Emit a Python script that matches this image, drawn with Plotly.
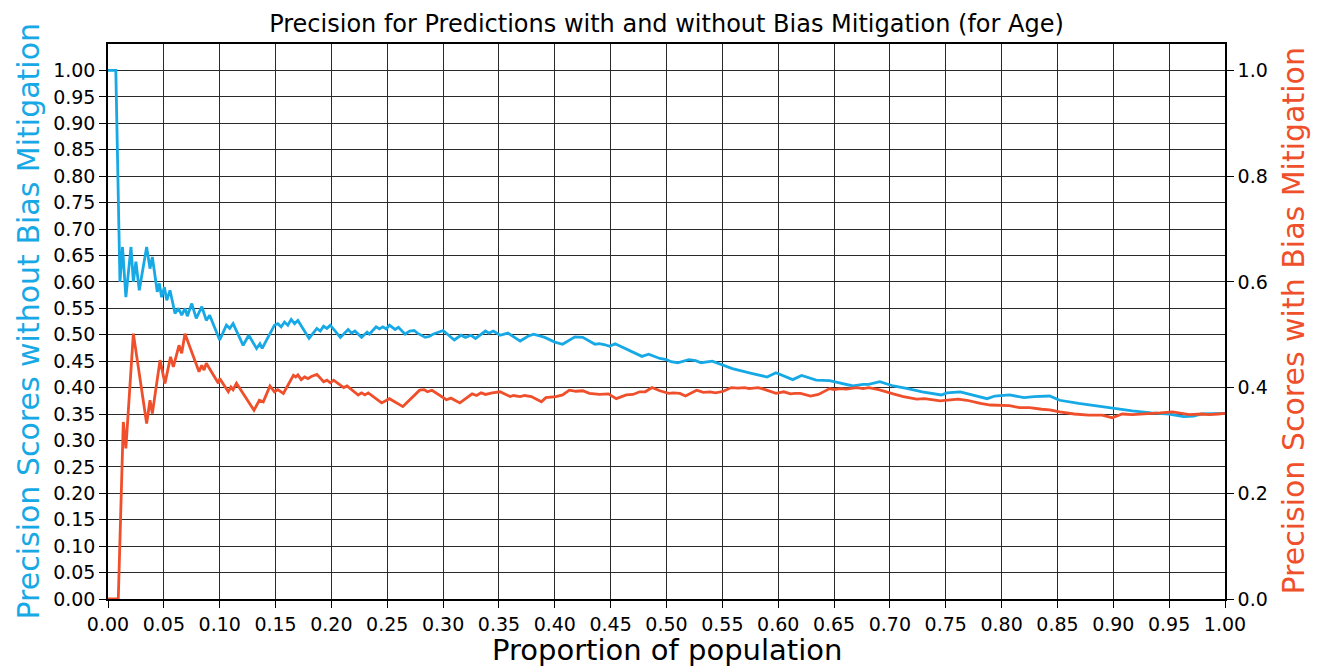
import plotly.graph_objects as go

# Precision without bias mitigation (left axis)
no_mit_x = [0.0, 0.007, 0.0107, 0.013, 0.016, 0.0206, 0.0227, 0.025, 0.028, 0.0346, 0.0376, 0.0397,
            0.0441, 0.046, 0.048, 0.0505, 0.0526, 0.0555, 0.060, 0.063, 0.066, 0.069, 0.071, 0.075,
            0.079, 0.084, 0.088, 0.091, 0.100, 0.106, 0.109, 0.112, 0.121, 0.126, 0.133, 0.136,
            0.138, 0.149, 0.152, 0.155, 0.158, 0.161, 0.164, 0.167, 0.170, 0.180, 0.187, 0.190,
            0.193, 0.196, 0.199, 0.208, 0.215, 0.218, 0.221, 0.227, 0.232, 0.234, 0.237, 0.240,
            0.243, 0.246, 0.249, 0.252, 0.257, 0.260, 0.266, 0.270, 0.274, 0.277, 0.284, 0.288,
            0.291, 0.297, 0.300, 0.310, 0.316, 0.320, 0.325, 0.329, 0.338, 0.341, 0.345, 0.351,
            0.358, 0.369, 0.376, 0.381, 0.388, 0.391, 0.400, 0.407, 0.418, 0.425, 0.436, 0.440,
            0.445, 0.449, 0.454, 0.478, 0.484, 0.494, 0.500, 0.504, 0.510, 0.520, 0.526, 0.531,
            0.541, 0.559, 0.576, 0.590, 0.598, 0.613, 0.621, 0.634, 0.646, 0.654, 0.667, 0.676,
            0.681, 0.691, 0.703, 0.716, 0.729, 0.746, 0.751, 0.763, 0.774, 0.787, 0.794, 0.807,
            0.820, 0.829, 0.843, 0.852, 0.869, 0.885, 0.901, 0.917, 0.934, 0.950, 0.963, 0.972,
            0.979, 0.988, 0.994, 1.0]
no_mit_y = [1.0, 1.0, 0.600, 0.666, 0.571, 0.666, 0.600, 0.638, 0.584, 0.666, 0.625, 0.647,
            0.581, 0.597, 0.571, 0.590, 0.565, 0.584, 0.540, 0.550, 0.537, 0.550, 0.535, 0.559,
            0.531, 0.553, 0.527, 0.537, 0.490, 0.518, 0.512, 0.521, 0.480, 0.499, 0.474, 0.483,
            0.474, 0.518, 0.521, 0.515, 0.524, 0.518, 0.529, 0.521, 0.527, 0.493, 0.512, 0.507,
            0.516, 0.512, 0.518, 0.495, 0.510, 0.503, 0.507, 0.495, 0.505, 0.501, 0.508, 0.515,
            0.511, 0.515, 0.511, 0.518, 0.510, 0.514, 0.501, 0.507, 0.508, 0.503, 0.495, 0.497,
            0.501, 0.505, 0.508, 0.490, 0.499, 0.495, 0.499, 0.493, 0.507, 0.503, 0.507, 0.499,
            0.503, 0.488, 0.497, 0.501, 0.497, 0.495, 0.486, 0.482, 0.496, 0.495, 0.482, 0.483,
            0.481, 0.478, 0.483, 0.459, 0.463, 0.455, 0.453, 0.449, 0.447, 0.453, 0.451, 0.447,
            0.450, 0.436, 0.427, 0.420, 0.428, 0.415, 0.423, 0.414, 0.413, 0.409, 0.403, 0.406,
            0.406, 0.411, 0.403, 0.398, 0.392, 0.386, 0.390, 0.392, 0.386, 0.379, 0.384, 0.386,
            0.381, 0.383, 0.384, 0.376, 0.370, 0.365, 0.360, 0.356, 0.352, 0.350, 0.345, 0.346,
            0.350, 0.350, 0.350, 0.351]

# Precision with bias mitigation (right axis)
mit_x = [0.0, 0.0092, 0.0137, 0.016, 0.0227, 0.0346, 0.0376, 0.0397, 0.0466, 0.051, 0.056, 0.0585,
         0.0636, 0.066, 0.0689, 0.0764, 0.0815, 0.0839, 0.086, 0.088, 0.0988, 0.100, 0.1077, 0.110,
         0.112, 0.115, 0.1307, 0.1355, 0.139, 0.145, 0.149, 0.152, 0.157, 0.166, 0.168, 0.170,
         0.173, 0.176, 0.179, 0.182, 0.187, 0.193, 0.196, 0.199, 0.202, 0.211, 0.214, 0.224,
         0.227, 0.230, 0.233, 0.245, 0.252, 0.264, 0.279, 0.283, 0.286, 0.290, 0.303, 0.307,
         0.315, 0.326, 0.330, 0.334, 0.338, 0.344, 0.351, 0.360, 0.363, 0.369, 0.373, 0.379,
         0.388, 0.392, 0.401, 0.407, 0.413, 0.419, 0.425, 0.431, 0.440, 0.448, 0.455, 0.464,
         0.470, 0.476, 0.481, 0.487, 0.494, 0.502, 0.506, 0.512, 0.517, 0.527, 0.533, 0.539,
         0.544, 0.551, 0.558, 0.564, 0.570, 0.574, 0.582, 0.587, 0.598, 0.605, 0.611, 0.615,
         0.620, 0.629, 0.636, 0.646, 0.650, 0.656, 0.661, 0.670, 0.676, 0.681, 0.690, 0.703,
         0.712, 0.724, 0.731, 0.745, 0.761, 0.769, 0.781, 0.790, 0.801, 0.807, 0.816, 0.825,
         0.836, 0.843, 0.852, 0.865, 0.878, 0.890, 0.899, 0.908, 0.917, 0.930, 0.942, 0.953,
         0.963, 0.968, 0.979, 0.986, 0.994, 1.0]
mit_y = [0.0, 0.0, 0.335, 0.285, 0.502, 0.332, 0.376, 0.351, 0.452, 0.408, 0.458, 0.439,
         0.480, 0.465, 0.502, 0.458, 0.430, 0.442, 0.433, 0.446, 0.408, 0.417, 0.392, 0.401,
         0.396, 0.408, 0.357, 0.376, 0.373, 0.403, 0.392, 0.396, 0.389, 0.423, 0.420, 0.424,
         0.415, 0.420, 0.417, 0.421, 0.425, 0.411, 0.414, 0.409, 0.414, 0.400, 0.403, 0.386,
         0.390, 0.386, 0.390, 0.371, 0.379, 0.364, 0.395, 0.396, 0.392, 0.395, 0.377, 0.380,
         0.371, 0.388, 0.385, 0.390, 0.387, 0.390, 0.392, 0.383, 0.385, 0.383, 0.385, 0.383,
         0.373, 0.381, 0.383, 0.386, 0.395, 0.393, 0.394, 0.389, 0.387, 0.388, 0.379, 0.386,
         0.387, 0.392, 0.392, 0.400, 0.394, 0.389, 0.390, 0.389, 0.384, 0.395, 0.391, 0.392,
         0.390, 0.393, 0.400, 0.399, 0.400, 0.398, 0.400, 0.397, 0.389, 0.392, 0.388, 0.389,
         0.389, 0.384, 0.387, 0.398, 0.396, 0.398, 0.397, 0.400, 0.398, 0.400, 0.396, 0.388,
         0.383, 0.378, 0.379, 0.375, 0.378, 0.376, 0.370, 0.367, 0.367, 0.366, 0.362, 0.362,
         0.359, 0.358, 0.354, 0.350, 0.348, 0.348, 0.343, 0.350, 0.349, 0.350, 0.352, 0.354,
         0.351, 0.349, 0.350, 0.349, 0.350, 0.351]

x_ticks = [i / 20 for i in range(21)]
left_ticks = [i / 20 for i in range(21)]
right_ticks = [0.0, 0.2, 0.4, 0.6, 0.8, 1.0]

BLUE = "#17A9E5"
RED = "#EF4F2B"
FONT = "DejaVu Sans"

fig = go.Figure()
fig.add_trace(go.Scatter(x=no_mit_x, y=no_mit_y, mode="lines",
                         line=dict(color=BLUE, width=2.8), yaxis="y"))
fig.add_trace(go.Scatter(x=mit_x, y=mit_y, mode="lines",
                         line=dict(color=RED, width=2.8), yaxis="y2"))

axis_common = dict(showline=True, linecolor="black", linewidth=1.5,
                   ticks="outside", ticklen=7, tickwidth=1.3, tickcolor="black",
                   tickfont=dict(family=FONT, size=19, color="black"), zeroline=False)

fig.update_layout(
    width=1320, height=667,
    margin=dict(l=108, r=95, t=44, b=68),
    paper_bgcolor="white", plot_bgcolor="white",
    showlegend=False,
    font=dict(family=FONT, color="black"),
    title=dict(text="Precision for Predictions with and without Bias Mitigation (for Age)",
               x=0.5, xref="paper", y=1 - 24 / 667, yref="container",
               xanchor="center", yanchor="middle",
               font=dict(family=FONT, size=24, color="black")),
    xaxis=dict(range=[0, 1], tickvals=x_ticks, ticktext=[f"{v:.2f}" for v in x_ticks],
               showgrid=True, gridcolor="#2a2a2a", gridwidth=1.2, mirror=True,
               **axis_common),
    yaxis=dict(range=[0, 1.05], tickvals=left_ticks, ticktext=[f"{v:.2f}" for v in left_ticks],
               showgrid=True, gridcolor="#2a2a2a", gridwidth=1.2, **axis_common),
    yaxis2=dict(range=[0, 1.05], tickvals=right_ticks, ticktext=[f"{v:.1f}" for v in right_ticks],
                overlaying="y", side="right", showgrid=False, **axis_common),
    annotations=[
        dict(text="Proportion of population", xref="paper", yref="paper",
             x=0.5, y=(599 - 650) / 555, xanchor="center", yanchor="middle",
             height=32, valign="middle",
             showarrow=False, font=dict(family=FONT, size=29, color="black")),
        dict(text="Precision Scores without Bias Mitigation", xref="paper", yref="paper",
             x=(28 - 108) / 1117, y=0.5, xanchor="center", yanchor="middle", textangle=-90,
             showarrow=False, font=dict(family=FONT, size=30, color=BLUE)),
        dict(text="Precision Scores with Bias Mitigation", xref="paper", yref="paper",
             x=(1293 - 108) / 1117, y=0.5, xanchor="center", yanchor="middle", textangle=-90,
             showarrow=False, font=dict(family=FONT, size=30, color=RED)),
    ],
)

fig.write_html("out.html")
